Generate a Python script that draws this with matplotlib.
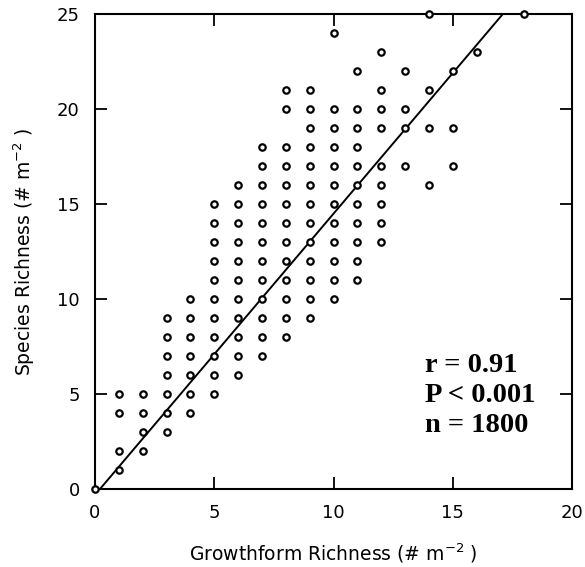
import matplotlib
matplotlib.use("Agg")
import matplotlib.pyplot as plt
import numpy as np

# Growthform richness (x) and the species richness values observed at each x
growthform = [0, 1, 2, 3, 4, 5, 6, 7, 8, 9, 10, 11, 12, 13, 14, 15, 16, 18]
species = [
    [0],
    [1, 2, 4, 5],
    [2, 3, 4, 5],
    [3, 4, 5, 6, 7, 8, 9],
    [4, 5, 6, 7, 8, 9, 10],
    [5, 6, 7, 8, 9, 10, 11, 12, 13, 14, 15],
    [6, 7, 8, 9, 10, 11, 12, 13, 14, 15, 16],
    [7, 8, 9, 10, 11, 12, 13, 14, 15, 16, 17, 18],
    [8, 9, 10, 11, 12, 13, 14, 15, 16, 17, 18, 20, 21],
    [9, 10, 11, 12, 13, 14, 15, 16, 17, 18, 19, 20, 21],
    [10, 11, 12, 13, 14, 15, 16, 17, 18, 19, 20, 24],
    [11, 12, 13, 14, 15, 16, 17, 18, 19, 20, 22],
    [13, 14, 15, 16, 17, 19, 20, 21, 23],
    [17, 19, 20, 22],
    [16, 19, 21, 25],
    [17, 19, 22],
    [23],
    [25],
]

# Least-squares fit line
slope = 1.48
intercept = -0.31

stats_lines = ["r = 0.91", "P < 0.001", "n = 1800"]

xs = [gx for gx, col in zip(growthform, species) for _ in col]
ys = [sy for col in species for sy in col]

fig = plt.figure(figsize=(5.85, 5.67), dpi=100)
ax = fig.add_axes([95 / 585, 1 - 489 / 567, 477 / 585, 475 / 567])

ax.plot(xs, ys, linestyle="none", marker="o", markersize=4.6,
        markerfacecolor="white", markeredgecolor="black",
        markeredgewidth=1.6, clip_on=False, zorder=3)

fit_x = np.array([0.0, 20.0])
ax.plot(fit_x, slope * fit_x + intercept, color="black", linewidth=1.4, zorder=2)

ax.set_xlim(0, 20)
ax.set_ylim(0, 25)
ax.set_xticks([0, 5, 10, 15, 20])
ax.set_yticks([0, 5, 10, 15, 20, 25])

for s in ax.spines.values():
    s.set_linewidth(1.5)

ax.tick_params(direction="in", length=8.5, width=1.3, top=True, right=True,
               labelsize=13, pad=11)
for lab in ax.get_xticklabels() + ax.get_yticklabels():
    lab.set_family("DejaVu Sans")

ax.set_xlabel(r"Growthform Richness (# m$^{-2}$ )", fontsize=13.5, labelpad=14,
              family="DejaVu Sans")
ax.set_ylabel(r"Species Richness (# m$^{-2}$ )", fontsize=13.5, labelpad=14,
              family="DejaVu Sans")

baselines = [0.2463, 0.183, 0.121]
for txt, yb in zip(stats_lines, baselines):
    ax.text(0.692, yb, txt, transform=ax.transAxes, ha="left", va="baseline",
            fontsize=20.5, fontweight="bold", family="Liberation Serif")

fig.savefig("out.png", dpi=100)
